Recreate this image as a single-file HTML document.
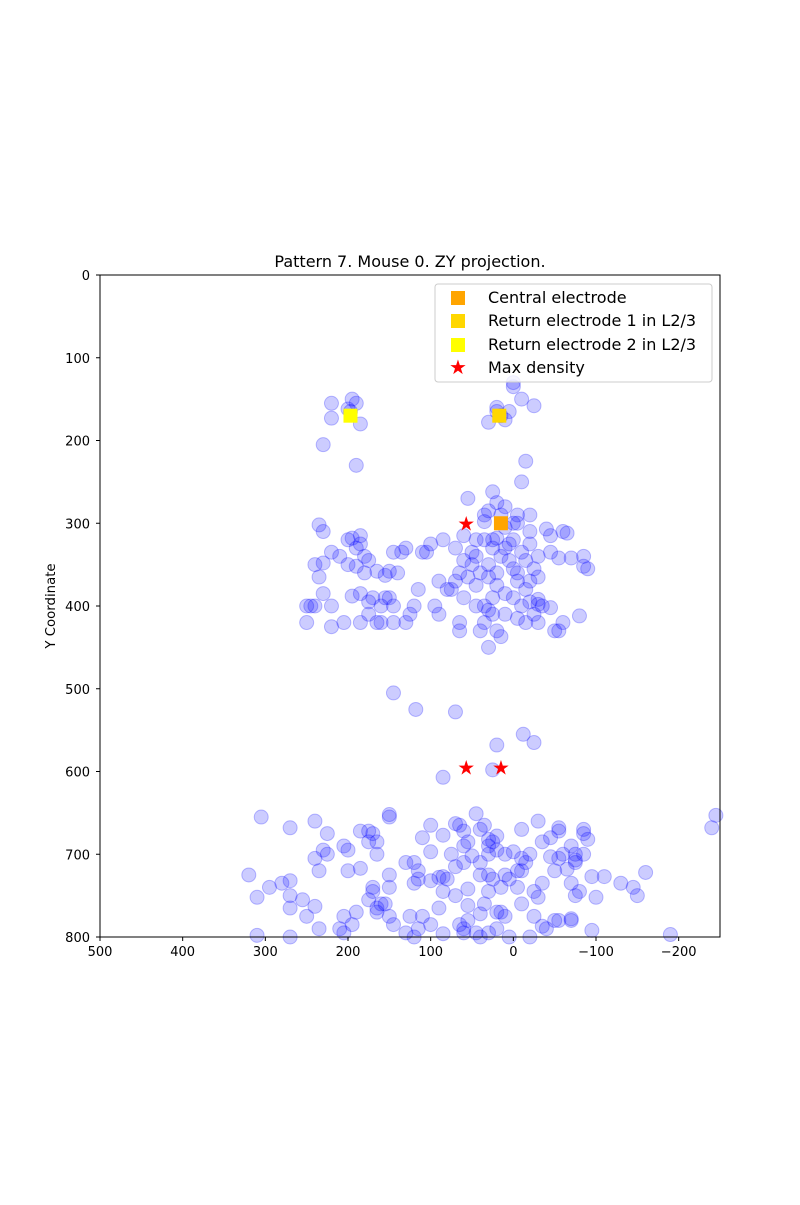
<!DOCTYPE html>
<html><head><meta charset="utf-8"><style>
body{margin:0;background:#fff;}
svg text{font-family:"DejaVu Sans","Liberation Sans",sans-serif;}
</style></head><body>
<svg id="chart" width="800" height="1200" xmlns="http://www.w3.org/2000/svg">
<rect width="800" height="1200" fill="#fff"/>
<text x="410" y="267" text-anchor="middle" font-size="16">Pattern 7. Mouse 0. ZY projection.</text>
<text transform="translate(55,606) rotate(-90)" text-anchor="middle" font-size="13.3">Y Coordinate</text>
<g id="points"></g>
<g id="markers"></g>
<rect x="100" y="275" width="620" height="662" fill="none" stroke="#000" stroke-width="1"/>
<g id="axes"></g>
<g>
<rect x="435" y="284" width="277" height="98" rx="3" fill="#fff" fill-opacity="0.8" stroke="#ccc"/>
<rect x="451" y="291" width="14" height="14" fill="#FFA500"/>
<text x="488" y="303" font-size="16">Central electrode</text>
<rect x="451" y="314" width="14" height="14" fill="#FFD700"/>
<text x="488" y="326" font-size="16">Return electrode 1 in L2/3</text>
<rect x="451" y="338" width="14" height="14" fill="#FFFF00"/>
<text x="488" y="350" font-size="16">Return electrode 2 in L2/3</text>
<text x="458" y="374" font-size="20" fill="#f00" text-anchor="middle">★</text>
<text x="488" y="373" font-size="16">Max density</text>
</g>
</svg>
<script>
const xTicks=[500,400,300,200,100,0,-100,-200];
const yTicks=[0,100,200,300,400,500,600,700,800];
const pointsX=[220,195,190,200,185,220,230,190,197,20,30,10,5,0,0,-10,-25,15,20,-15,
55,-10,20,25,30,10,15,35,35,0,-5,-20,-5,10,-20,-40,-60,-65,-45,60,45,35,25,20,0,5,-20,-30,-45,-55,-70,-85,-85,-90,-30,-20,-5,-15,0,-20,-30,-35,-25,-10,-5,-30,-15,-50,-80,10,20,30,40,50,60,70,65,55,35,30,25,10,20,35,40,15,30,45,60,65,65,85,100,105,110,130,135,145,90,75,95,90,115,120,125,130,140,150,155,165,175,180,185,190,200,185,195,210,220,235,230,200,190,180,195,185,170,160,150,145,175,185,165,160,145,205,220,240,245,250,220,250,230,235,230,240,175,155,70,80,45,25,-30,-60,-55,-45,-10,-15,-25,10,15,5,25,45,0,-5,30,20,50,
145,118,70,-12,-25,20,85,25,
305,270,240,225,185,175,170,165,175,200,205,230,225,240,235,200,185,165,150,150,130,120,115,115,120,110,100,100,85,70,65,60,60,55,45,40,35,30,30,25,20,20,10,0,-10,-30,-35,-45,-55,-55,-70,-85,-85,-90,-85,-75,-75,-75,-55,-60,-45,-20,-10,-5,10,5,30,40,55,70,75,80,85,90,100,85,70,55,40,35,30,20,10,-10,-15,-25,-30,-35,-50,-65,-70,-75,-80,-95,-110,-100,-130,-145,-150,-160,-240,-245,-190,-95,-70,-70,-55,-40,-20,5,20,30,55,60,85,100,110,115,120,130,145,150,155,165,170,170,175,190,195,205,205,210,235,250,255,270,270,280,295,310,320,310,270,240,270,150,150,160,165,125,90,65,60,45,40,-25,-35,-50,-5,15,60,50,40,30,25,15,-10];
const pointsY=[155,150,155,162,180,173,205,230,165,160,178,175,165,130,135,150,158,170,165,225,
270,250,275,262,285,280,290,290,298,300,290,290,300,305,310,307,310,312,315,315,320,320,320,318,320,325,325,340,335,342,342,340,352,355,365,370,370,380,390,395,392,400,410,400,415,420,420,430,412,385,375,365,360,350,345,330,360,365,400,405,410,410,430,420,430,437,450,400,390,420,430,320,325,335,335,330,335,335,370,380,400,410,380,400,410,420,360,358,363,358,345,340,325,330,320,315,318,340,335,302,310,350,352,360,388,385,390,400,390,400,410,420,420,420,420,420,400,400,400,400,425,420,385,365,348,350,395,390,370,380,375,390,398,420,430,402,335,345,355,330,340,345,330,340,355,360,350,360,335,
505,525,528,555,565,568,607,598,
655,668,660,675,672,672,675,685,685,695,690,695,700,705,720,720,717,700,655,652,710,710,720,730,735,680,665,697,677,663,665,672,690,685,651,670,665,682,690,685,678,695,700,697,670,660,685,680,668,672,690,670,675,682,700,700,707,710,705,700,703,700,705,720,725,730,725,725,742,715,700,730,727,728,732,745,750,762,772,760,745,770,775,760,710,745,752,735,720,718,735,750,745,727,727,752,735,740,750,722,668,653,797,792,778,780,780,790,800,800,790,795,780,790,796,785,775,790,800,795,785,775,760,765,745,740,755,770,785,795,775,790,790,775,755,750,765,735,740,752,725,798,800,763,732,725,740,760,770,775,765,785,795,795,800,775,787,780,740,770,710,702,710,700,730,740,720];
const electrodeX=[15,17,197];
const electrodeY=[300,170,170];
const electrodeColors=['#FFA500','#FFD700','#FFFF00'];
const maxX=[57,57,15];
const maxY=[300,595,595];
const NS='http://www.w3.org/2000/svg';
const sx=v=>100+(500-v)*620/750;
const sy=v=>275+v*662/800;
const axes=document.getElementById('axes');
xTicks.forEach(t=>{
 const l=document.createElementNS(NS,'line');
 
 
 l.setAttribute('x1',sx(t));l.setAttribute('x2',sx(t));l.setAttribute('y1',937);l.setAttribute('y2',941);l.setAttribute('stroke','#000');
 axes.appendChild(l);
 const tx=document.createElementNS(NS,'text');
 
 
 tx.setAttribute('x',sx(t));tx.setAttribute('y',956);tx.setAttribute('text-anchor','middle');tx.setAttribute('font-size','13');
 tx.textContent=t<0?'\u2212'+(-t):String(t);
 axes.appendChild(tx);
});
yTicks.forEach(t=>{
 const l=document.createElementNS(NS,'line');
 
 
 l.setAttribute('x1',96);l.setAttribute('x2',100);l.setAttribute('y1',sy(t));l.setAttribute('y2',sy(t));l.setAttribute('stroke','#000');
 axes.appendChild(l);
 const tx=document.createElementNS(NS,'text');
 
 
 tx.setAttribute('x',90);tx.setAttribute('y',sy(t)+5);tx.setAttribute('text-anchor','end');tx.setAttribute('font-size','13');
 tx.textContent=String(t);
 axes.appendChild(tx);
});
const pg=document.getElementById('points');
pointsX.forEach((x,i)=>{
 const c=document.createElementNS(NS,'circle');
 
 
 c.setAttribute('cx',sx(x));c.setAttribute('cy',sy(pointsY[i]));c.setAttribute('r',7);
 c.setAttribute('fill','rgba(0,0,255,0.2)');c.setAttribute('stroke','rgba(0,0,255,0.25)');
 pg.appendChild(c);
});
const mg=document.getElementById('markers');
electrodeX.forEach((x,i)=>{
 const r=document.createElementNS(NS,'rect');
 
 
 r.setAttribute('x',sx(x)-7);r.setAttribute('y',sy(electrodeY[i])-7);r.setAttribute('width',14);r.setAttribute('height',14);r.setAttribute('fill',electrodeColors[i]);
 mg.appendChild(r);
});
maxX.forEach((x,i)=>{
 const s=document.createElementNS(NS,'text');
 
 
 s.setAttribute('x',sx(x));s.setAttribute('y',sy(maxY[i])+7);s.setAttribute('text-anchor','middle');s.setAttribute('font-size','20');s.setAttribute('fill','#f00');
 s.textContent='★';
 mg.appendChild(s);
});
</script>
</body></html>
